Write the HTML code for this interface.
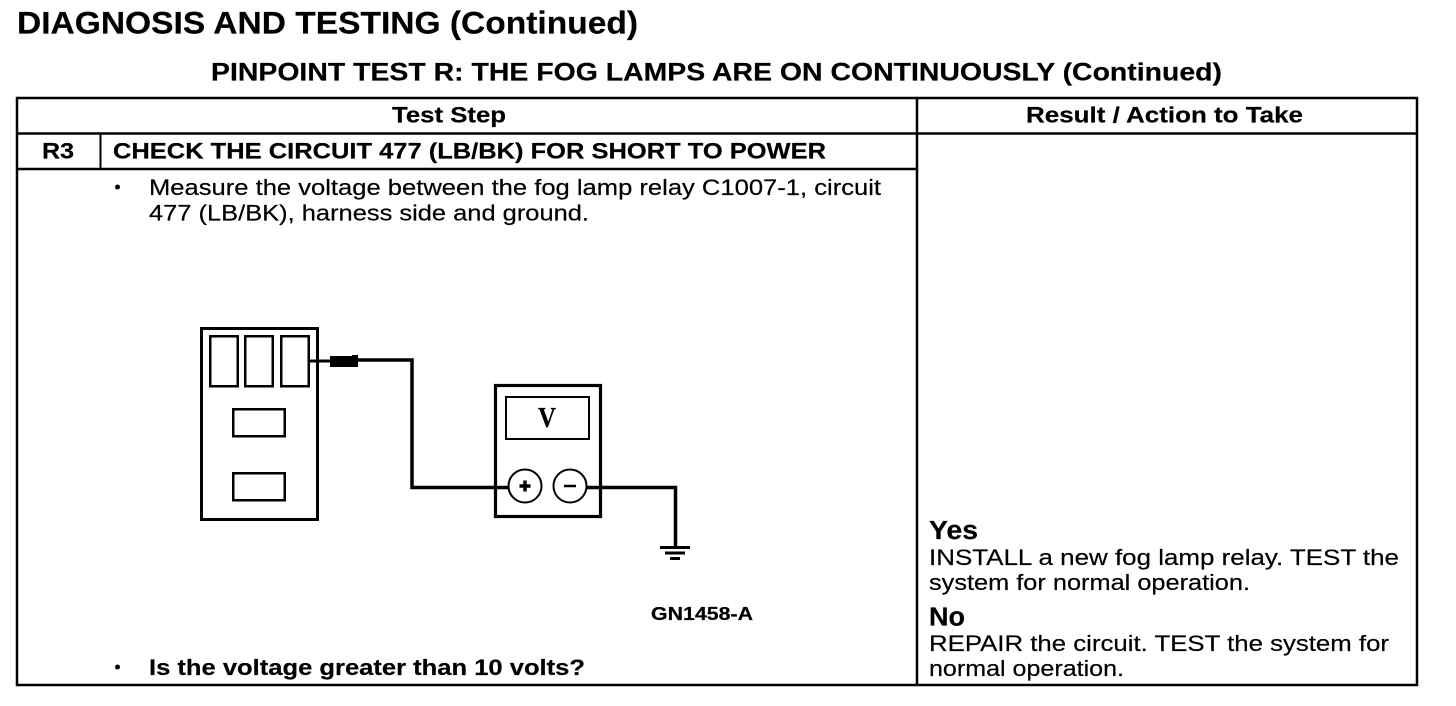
<!DOCTYPE html>
<html><head><meta charset="utf-8"><style>
html,body{margin:0;padding:0;background:#fff}
body{width:1456px;height:706px;overflow:hidden}
svg{display:block}
text{font-family:"Liberation Sans",Arial,sans-serif;fill:#000;stroke:#000;stroke-width:.2px}
.b{font-weight:bold}
</style></head><body>
<svg width="1456" height="706" viewBox="0 0 1456 706" xmlns="http://www.w3.org/2000/svg">
<text x="17" y="33.500" class="b" font-size="31.500" textLength="621" lengthAdjust="spacingAndGlyphs">DIAGNOSIS AND TESTING (Continued)</text>
<text x="211" y="80.500" class="b" font-size="25" textLength="1011" lengthAdjust="spacingAndGlyphs">PINPOINT TEST R: THE FOG LAMPS ARE ON CONTINUOUSLY (Continued)</text>
<g fill="none" stroke="#000" stroke-width="2.500">
<rect x="17" y="98" width="1400" height="587"/>
<path d="M17 133.500H1417M917 98V685M17 169H917"/>
</g>
<path d="M100.500 133V169" stroke="#000" stroke-width="2" fill="none"/>
<text x="392" y="122.500" class="b" font-size="22.500" textLength="114" lengthAdjust="spacingAndGlyphs">Test Step</text>
<text x="1026" y="122.500" class="b" font-size="22.500" textLength="277" lengthAdjust="spacingAndGlyphs">Result / Action to Take</text>
<text x="42" y="158.500" class="b" font-size="22.500" textLength="32" lengthAdjust="spacingAndGlyphs">R3</text>
<text x="113" y="158.500" class="b" font-size="22.500" textLength="713" lengthAdjust="spacingAndGlyphs">CHECK THE CIRCUIT 477 (LB/BK) FOR SHORT TO POWER</text>
<circle cx="117.500" cy="187" r="2.500"/>
<text x="149" y="195" font-size="22.500" textLength="732" lengthAdjust="spacingAndGlyphs">Measure the voltage between the fog lamp relay C1007-1, circuit</text>
<text x="149" y="220.500" font-size="22.500" textLength="440" lengthAdjust="spacingAndGlyphs">477 (LB/BK), harness side and ground.</text>
<circle cx="117.500" cy="667" r="2.500"/>
<text x="149" y="675" class="b" font-size="22.500" textLength="436" lengthAdjust="spacingAndGlyphs">Is the voltage greater than 10 volts?</text>
<text x="651" y="620" class="b" font-size="18.500" textLength="102" lengthAdjust="spacingAndGlyphs">GN1458-A</text>
<text x="929" y="539" class="b" font-size="25.500" textLength="49" lengthAdjust="spacingAndGlyphs">Yes</text>
<text x="929" y="565" font-size="22.500" textLength="470" lengthAdjust="spacingAndGlyphs">INSTALL a new fog lamp relay. TEST the</text>
<text x="929" y="590" font-size="22.500" textLength="321" lengthAdjust="spacingAndGlyphs">system for normal operation.</text>
<text x="929" y="625.500" class="b" font-size="25.500" textLength="36" lengthAdjust="spacingAndGlyphs">No</text>
<text x="929" y="651" font-size="22.500" textLength="460" lengthAdjust="spacingAndGlyphs">REPAIR the circuit. TEST the system for</text>
<text x="929" y="676" font-size="22.500" textLength="195" lengthAdjust="spacingAndGlyphs">normal operation.</text>
<g fill="none" stroke="#000">
<rect x="201.500" y="328.500" width="116" height="191" stroke-width="3"/>
<rect x="210.250" y="336.250" width="27.500" height="50" stroke-width="2.500"/>
<rect x="245.250" y="336.250" width="27.500" height="50" stroke-width="2.500"/>
<rect x="281.250" y="336.250" width="27.500" height="50" stroke-width="2.500"/>
<rect x="233.250" y="409.250" width="51.500" height="27" stroke-width="2.500"/>
<rect x="233.250" y="473.250" width="51.500" height="27" stroke-width="2.500"/>
<rect x="495.500" y="385.500" width="105" height="131" stroke-width="3.200"/>
<rect x="506" y="397" width="83" height="42" stroke-width="2"/>
<circle cx="525" cy="486" r="16.500" stroke-width="2"/>
<circle cx="570" cy="486" r="16.500" stroke-width="2"/>
<path d="M309 361H332" stroke-width="3"/>
<path d="M356 360H412V487.500H508M587 487.500H675.500V546" stroke-width="3.500"/>
<path d="M660 547.500H690M665 553H685M670 558.500H680" stroke-width="3"/>
<path d="M519.500 486H530.500M525 480.500V491.500" stroke-width="3.500"/>
<path d="M564 486H576" stroke-width="2.500"/>
</g>
<rect x="330" y="356" width="28" height="11" fill="#000"/>
<rect x="352" y="355" width="6" height="3" fill="#000"/>
<text x="538" y="427" font-size="28" font-weight="bold" textLength="18" lengthAdjust="spacingAndGlyphs" style="font-family:'Liberation Serif',serif">V</text>
</svg>
</body></html>
